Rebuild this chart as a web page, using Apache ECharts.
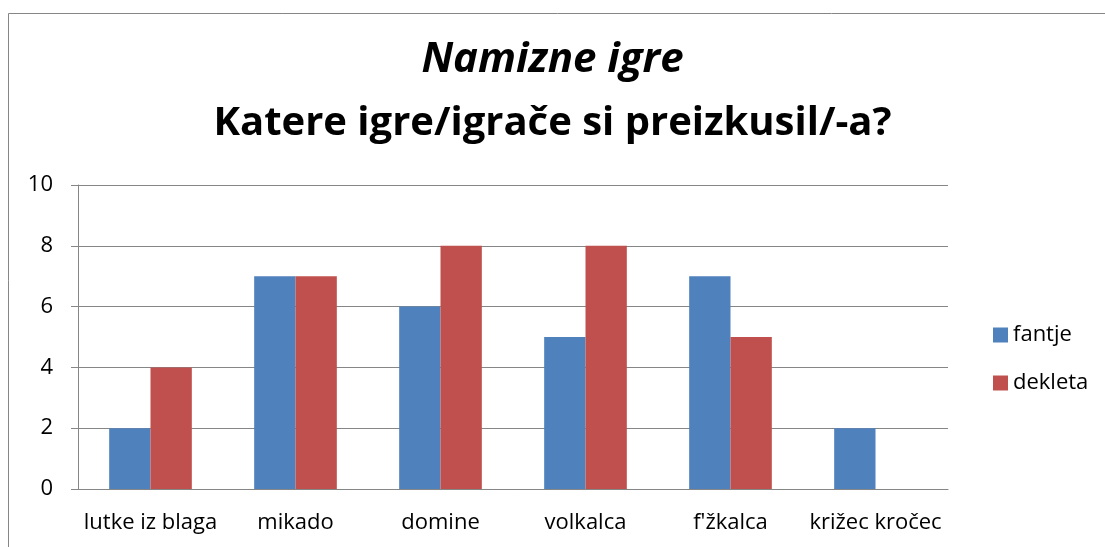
<!DOCTYPE html>
<html>
	<head>
		<meta charset="utf-8" />
		<title>Namizne igre</title>
		<script src="https://cdn.jsdelivr.net/npm/echarts@6/dist/echarts.min.js"></script>
		<style>
			html, body { margin: 0; padding: 0; background: #fff; }
			#chart { width: 1105px; height: 547px; }
		</style>
	</head>
	<body>
		<div id="chart"></div>
	<script type="text/javascript">
		// podatki
		var categories = ['lutke iz blaga', 'mikado', 'domine', 'volkalca', "f'žkalca", 'križec kročec'];
		var fantje = [2, 7, 6, 5, 7, 2];
		var dekleta = [4, 7, 8, 8, 5, 0];
		var yTicks = [0, 2, 4, 6, 8, 10];

		var font = 'Open Sans';
		var grey = '#868686';

		var myChart = echarts.init(document.getElementById('chart'));
		var option = {
			backgroundColor: '#fff',
			animation: false,
			title: [
				{
					text: 'Namizne igre',
					left: 'center',
					top: 34,
					textStyle: { fontFamily: font, fontSize: 42, fontStyle: 'italic', fontWeight: 'bold', color: '#000' }
				},
				{
					text: 'Katere igre/igrače si preizkusil/-a?',
					left: 'center',
					top: 99,
					textStyle: { fontFamily: font, fontSize: 40, fontWeight: 'bold', color: '#000' }
				}
			],
			// okvir grafikona
			graphic: [{
				type: 'rect',
				shape: { x: 8.5, y: 13.5, width: 1200, height: 600 },
				style: { fill: 'none', stroke: grey, lineWidth: 1 }
			}],
			legend: {
				orient: 'vertical',
				left: 988,
				top: 319,
				itemWidth: 15,
				itemHeight: 15,
				itemGap: 26,
				icon: 'rect',
				textStyle: { fontFamily: font, fontSize: 22, color: '#000' },
				data: ['fantje', 'dekleta']
			},
			grid: { left: 78, right: 157, top: 185, bottom: 58 },
			xAxis: {
				type: 'category',
				data: categories,
				axisLine: { lineStyle: { color: grey } },
				axisTick: { length: 7, lineStyle: { color: grey } },
				axisLabel: { interval: 0, margin: 23, fontFamily: font, fontSize: 22, color: '#000' }
			},
			yAxis: {
				type: 'value',
				min: yTicks[0],
				max: yTicks[yTicks.length - 1],
				interval: 2,
				axisLine: { show: true, lineStyle: { color: grey } },
				axisTick: { show: true, length: 7, lineStyle: { color: grey } },
				splitLine: { lineStyle: { color: grey } },
				axisLabel: { margin: 25, fontFamily: font, fontSize: 22, color: '#000' }
			},
			series: [
				{ name: 'fantje', type: 'bar', data: fantje, barGap: '0%', barCategoryGap: '43%', itemStyle: { color: '#4F81BD' } },
				{ name: 'dekleta', type: 'bar', data: dekleta, barGap: '0%', barCategoryGap: '43%', itemStyle: { color: '#C0504D' } }
			]
		};
		myChart.setOption(option);
	</script>
	</body>
</html>
